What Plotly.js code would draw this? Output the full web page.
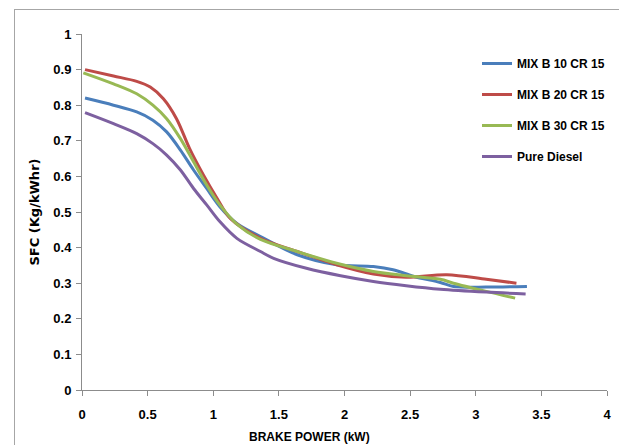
<!DOCTYPE html>
<html><head><meta charset="utf-8">
<script src="https://cdn.plot.ly/plotly-3.0.1.min.js"></script>
<style>
html,body{margin:0;padding:0;background:#fff;overflow:hidden;}
#frame{position:absolute;left:14px;top:9px;width:700px;height:500px;border:1px solid #a6a6a6;box-sizing:border-box;}
#plot{position:absolute;left:0;top:0;width:619px;height:445px;}
</style></head>
<body>
<div id="frame"></div>
<div id="plot"></div>
<script>
const seriesNames = ["MIX B 10 CR 15", "MIX B 20 CR 15", "MIX B 30 CR 15", "Pure Diesel"];
const seriesColors = ["#4A7EBB", "#BE4B48", "#98B954", "#7D60A0"];

const b10x = [0.023, 0.24, 0.417, 0.54, 0.645, 0.75, 0.85, 0.95, 1.05, 1.18, 1.36, 1.64, 1.94, 2.22, 2.37, 2.53, 2.73, 2.83, 3.08, 3.39];
const b10y = [0.82, 0.80, 0.781, 0.758, 0.725, 0.674, 0.618, 0.566, 0.515, 0.468, 0.431, 0.38, 0.352, 0.347, 0.338, 0.319, 0.302, 0.291, 0.289, 0.291];

const b20x = [0.023, 0.24, 0.417, 0.52, 0.62, 0.72, 0.82, 0.925, 1.03, 1.13, 1.36, 1.64, 1.94, 2.22, 2.47, 2.78, 3.08, 3.31];
const b20y = [0.90, 0.882, 0.867, 0.851, 0.818, 0.762, 0.678, 0.604, 0.538, 0.482, 0.426, 0.389, 0.352, 0.326, 0.317, 0.324, 0.311, 0.30];

const b30x = [0.01, 0.24, 0.417, 0.54, 0.645, 0.75, 0.85, 0.95, 1.05, 1.18, 1.36, 1.64, 1.94, 2.22, 2.47, 2.73, 2.83, 3.08, 3.30];
const b30y = [0.891, 0.86, 0.832, 0.80, 0.762, 0.706, 0.641, 0.576, 0.52, 0.466, 0.423, 0.389, 0.356, 0.333, 0.321, 0.311, 0.30, 0.277, 0.258];

const pdx = [0.023, 0.24, 0.417, 0.54, 0.645, 0.75, 0.85, 0.95, 1.05, 1.18, 1.36, 1.46, 1.71, 1.97, 2.22, 2.47, 2.73, 3.08, 3.38];
const pdy = [0.779, 0.748, 0.72, 0.692, 0.66, 0.618, 0.566, 0.52, 0.473, 0.426, 0.389, 0.37, 0.342, 0.321, 0.305, 0.293, 0.283, 0.275, 0.27];

const xs = [b10x, b20x, b30x, pdx];
const ys = [b10y, b20y, b30y, pdy];

const xTicks = [0, 0.5, 1, 1.5, 2, 2.5, 3, 3.5, 4];
const yTicks = [0, 0.1, 0.2, 0.3, 0.4, 0.5, 0.6, 0.7, 0.8, 0.9, 1];

const fam = "'Liberation Sans', Arial, sans-serif";

const traces = seriesNames.map((n, i) => ({
  x: xs[i], y: ys[i], name: n, type: 'scatter', mode: 'lines',
  legendgroup: 'g' + i,
  line: {color: seriesColors[i], width: 3, shape: 'spline', smoothing: 0.9}
}));

const layout = {
  width: 619, height: 445,
  margin: {l: 82, r: 12, t: 33.5, b: 54.5, autoexpand: false},
  paper_bgcolor: 'rgba(0,0,0,0)', plot_bgcolor: 'rgba(0,0,0,0)',
  showlegend: true,
  legend: {xref: 'container', yref: 'container', x: 477 / 619, y: 1 - 49 / 445, xanchor: 'left', yanchor: 'top', tracegroupgap: 12,
           font: {family: fam, size: 12, color: '#000', weight: 'bold'}, bgcolor: 'rgba(0,0,0,0)'},
  xaxis: {range: [0, 4], tickvals: xTicks, ticktext: xTicks.map(String), showgrid: false, zeroline: false,
          showline: true, linecolor: '#8c8c8c', linewidth: 1, ticks: 'outside', ticklen: 5, tickcolor: '#8c8c8c',
          ticklabelstandoff: 7, automargin: false,
          tickfont: {family: fam, size: 13, color: '#000', weight: 'bold'}},
  yaxis: {range: [0, 1], tickvals: yTicks, ticktext: yTicks.map(String), showgrid: false, zeroline: false,
          showline: true, linecolor: '#8c8c8c', linewidth: 1, ticks: 'outside', ticklen: 5, tickcolor: '#8c8c8c',
          ticklabelstandoff: 2, automargin: false,
          tickfont: {family: fam, size: 13, color: '#000', weight: 'bold'},
          title: {text: 'SFC (Kg/kWhr)', standoff: 10, font: {family: "'DejaVu Sans', sans-serif", size: 13, color: '#000', weight: 'bold'}}},
  annotations: [{text: 'BRAKE POWER (kW)', xref: 'paper', yref: 'paper', x: (309 - 82) / 525, y: (390.5 - 438) / 357,
                 xanchor: 'center', yanchor: 'middle', showarrow: false,
                 font: {family: fam, size: 12, color: '#000', weight: 'bold'}}]
};

Plotly.newPlot('plot', traces, layout, {displayModeBar: false, staticPlot: true});
</script>
</body></html>
